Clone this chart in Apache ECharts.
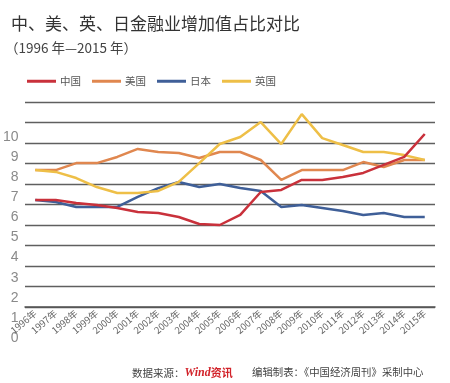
<!DOCTYPE html>
<html>
<head>
<meta charset="utf-8">
<script src="https://cdn.jsdelivr.net/npm/echarts@6/dist/echarts.min.js"></script>
<style>
html,body{margin:0;padding:0;background:#fff;}
#c{width:450px;height:383px;}
</style>
</head>
<body>
<div id="c"></div>
<script>
var years = ['1996年','1997年','1998年','1999年','2000年','2001年','2002年','2003年','2004年','2005年','2006年','2007年','2008年','2009年','2010年','2011年','2012年','2013年','2014年','2015年'];
var china = [5.22,5.22,5.07,4.98,4.83,4.63,4.59,4.39,4.05,4.0,4.49,5.61,5.71,6.2,6.2,6.34,6.54,6.93,7.32,8.44];
var usa   = [6.68,6.68,7.02,7.02,7.32,7.71,7.56,7.51,7.27,7.56,7.56,7.17,6.2,6.68,6.68,6.68,7.07,6.83,7.17,7.17];
var japan = [5.22,5.12,4.88,4.88,4.88,5.37,5.8,6.1,5.85,6.0,5.8,5.66,4.88,4.98,4.83,4.68,4.49,4.59,4.39,4.39];
var uk    = [6.68,6.59,6.29,5.85,5.56,5.56,5.66,6.1,7.02,7.95,8.29,9.02,7.95,9.41,8.24,7.9,7.56,7.56,7.41,7.17];
var seriesNames = ['中国','美国','日本','英国'];
var yTickLabels = ['0','1','2','3','4','5','6','7','8','9','10'];
var titleText = '中、美、英、日金融业增加值占比对比';
var subtitleText = '（1996 年—2015 年）';
var sourceLabel = '数据来源：';
var sourceBrand = 'Wind';
var sourceBrand2 = '资讯';
var editorText = '编辑制表：《中国经济周刊》采制中心';

var colors = ['#c9313b','#e0874f','#3f5f98','#eebf47'];
var font = '"Noto Sans CJK SC","Noto Sans",sans-serif';

var chart = echarts.init(document.getElementById('c'), null, {renderer:'canvas'});
var dataSets = [china, usa, japan, uk];
var series = seriesNames.map(function(n,i){
  return {
    name:n, type:'line', data:dataSets[i], xAxisIndex:0, yAxisIndex:0,
    symbol:'none', smooth:false,
    lineStyle:{color:colors[i], width:2.5},
    itemStyle:{color:colors[i]},
    z: i===0 ? 5 : 3
  };
});
chart.setOption({
  animation:false,
  backgroundColor:'#fff',
  textStyle:{fontFamily:font},
  title:[
    {text:titleText, left:6, top:10, textStyle:{fontFamily:font, fontSize:17, fontWeight:'normal', color:'#333'}},
    {text:subtitleText, left:0, top:36, textStyle:{fontFamily:font, fontSize:13.5, fontWeight:'normal', color:'#444'}},
    {text:sourceLabel + '{w|' + sourceBrand + '}{z|' + sourceBrand2 + '}', left:127, top:362,
     textStyle:{fontFamily:font, fontSize:10.5, fontWeight:'normal', color:'#444',
       rich:{
         w:{fontFamily:'"Liberation Serif",serif', fontStyle:'italic', fontWeight:'bold', fontSize:12, color:'#d2232a'},
         z:{fontFamily:font, fontWeight:'bold', fontSize:11, color:'#d2232a'}
       }}},
    {text:editorText, left:247, top:362, textStyle:{fontFamily:font, fontSize:10.4, fontWeight:'normal', color:'#444'}}
  ],
  legend:{
    left:22, top:71, itemWidth:29, itemHeight:3, itemGap:11,
    icon:'rect',
    textStyle:{fontFamily:font, fontSize:10.5, color:'#555', padding:[0,0,0,-1]},
    data:seriesNames
  },
  grid:[
    {left:25, right:15, top:102, height:205},
    {left:25, right:15, top:137, height:201}
  ],
  xAxis:[
    {type:'category', gridIndex:0, data:years, boundaryGap:true,
     axisLine:{show:true, lineStyle:{color:'#555', width:1.5}},
     axisTick:{show:false},
     axisLabel:{rotate:40, fontSize:9.5, color:'#666', margin:5, interval:0, fontFamily:font}},
    {type:'category', gridIndex:1, data:years, show:false}
  ],
  yAxis:[
    {type:'value', gridIndex:0, min:0, max:10, interval:1,
     axisLine:{show:false}, axisTick:{show:false}, axisLabel:{show:false},
     splitLine:{show:true, lineStyle:{color:'#5f5f5f', width:1.3}}},
    {type:'value', gridIndex:1, min:0, max:10, interval:1,
     axisLine:{show:false}, axisTick:{show:false}, splitLine:{show:false},
     axisLabel:{show:true, fontSize:14, color:'#8a8a8a', margin:7, fontFamily:'"Liberation Sans",sans-serif',
       formatter:function(v){ return yTickLabels[Math.round(v)]; }}}
  ],
  series:series
});
</script>
</body>
</html>
